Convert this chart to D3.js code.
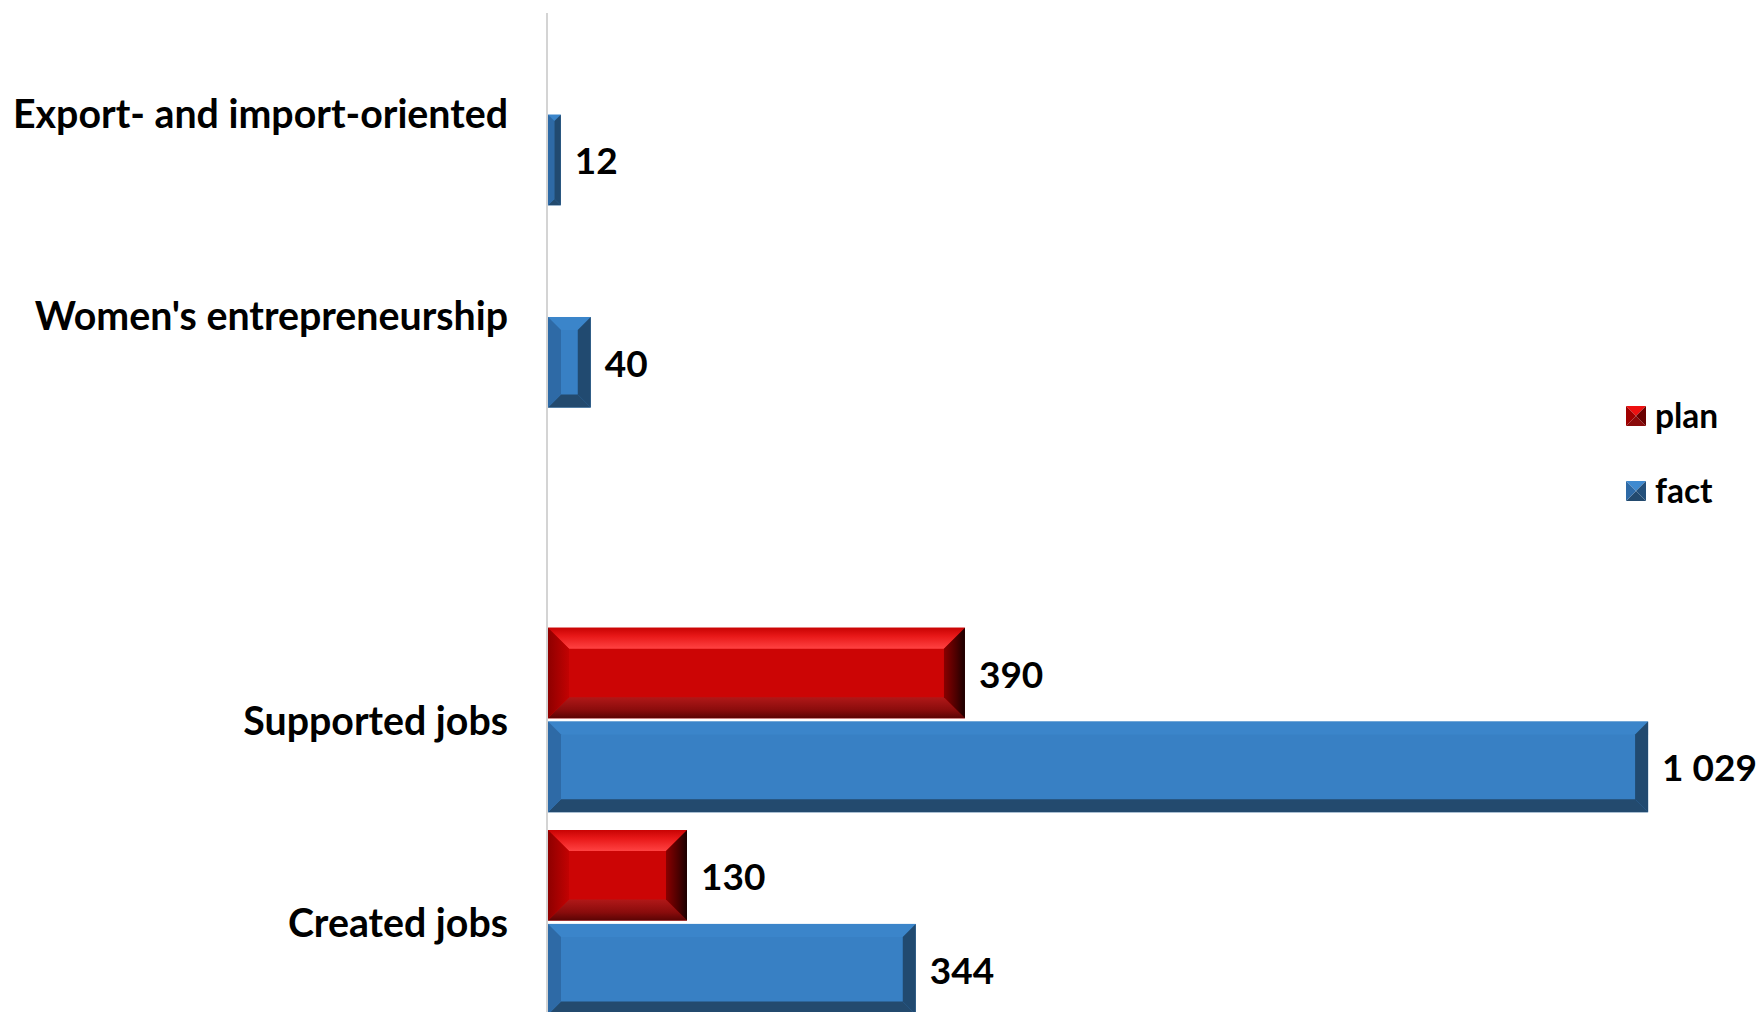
<!DOCTYPE html>
<html>
<head>
<meta charset="utf-8">
<script src="https://cdn.jsdelivr.net/npm/d3@7"></script>
<style>
  body { margin: 0; background: #fff; }
  text { font-family: Lato, "Open Sans", sans-serif; font-weight: bold; fill: #000; }
</style>
</head>
<body>
<div id="chart"></div>
<script>
// categories from top to bottom (the empty one is a blank row in the original)
var categories = ["Export- and import-oriented", "Women's entrepreneurship", "", "Supported jobs", "Created jobs"];
var series = ["plan", "fact"];
var planValues = [null, null, null, 390, 130];
var factValues = [12, 40, null, 1029, 344];

var width = 1762, height = 1012;

// colours for the bevelled bars
var colors = {
  plan: { main: "#cc0505", top: "gPlanTop", bottom: "gPlanBottom", left: "gPlanLeft", right: "gPlanRight" },
  fact: { main: "#3880c4", top: "#3b85ca", bottom: "#234a6e", left: "#2e6aa6", right: "#214a70" }
};

var svg = d3.select("#chart")
  .append("svg")
    .attr("width", width)
    .attr("height", height);

// gradients for the red bevel
var defs = svg.append("defs");
function grad(id, x2, y2, stops) {
  var g = defs.append("linearGradient")
    .attr("id", id)
    .attr("x1", 0).attr("y1", 0)
    .attr("x2", x2).attr("y2", y2);
  stops.forEach(function(s) {
    g.append("stop").attr("offset", s[0]).attr("stop-color", s[1]);
  });
}
grad("gPlanTop", 0, 1, [[0, "#c80303"], [0.4, "#e81818"], [1, "#ff4242"]]);
grad("gPlanBottom", 0, 1, [[0, "#b01818"], [0.6, "#8a0c0c"], [1, "#5a0404"]]);
grad("gPlanLeft", 1, 0, [[0, "#8e0000"], [1, "#c20202"]]);
grad("gPlanRight", 1, 0, [[0, "#8a0000"], [0.6, "#4a0000"], [1, "#1a0000"]]);

// scales
var y0 = d3.scaleBand()
  .domain(categories)
  .range([11.3, 1022.8]);

var y1 = d3.scaleBand()
  .domain(series)
  .range([9.5, 194])
  .paddingInner(0.035);

var x = d3.scaleLinear()
  .domain([0, 1100])
  .range([548, 1724]);

// axis line
svg.append("line")
  .attr("x1", x(0) - 1).attr("x2", x(0) - 1)
  .attr("y1", 13).attr("y2", height)
  .attr("stroke", "#d4d4d4")
  .attr("stroke-width", 2);

// category labels
svg.selectAll(".cat")
  .data(categories)
  .enter()
  .append("text")
    .attr("class", "cat")
    .attr("x", 508)
    .attr("y", function(d) { return y0(d) + y0.bandwidth() / 2; })
    .attr("text-anchor", "end")
    .attr("dominant-baseline", "central")
    .style("font-size", "39.3px")
    .text(function(d) { return d; });

// build bar list
var bars = [];
categories.forEach(function(c, i) {
  if (planValues[i] != null) bars.push({ cat: c, s: "plan", v: planValues[i] });
  if (factValues[i] != null) bars.push({ cat: c, s: "fact", v: factValues[i] });
});

var fmt = d3.formatLocale({ decimal: ".", thousands: " ", grouping: [3], currency: ["", ""] }).format(",d");

function pts(a) { return a.map(function(p) { return p.join(","); }).join(" "); }

// bevelled bars
bars.forEach(function(d) {
  var x0 = x(0), x1 = x(d.v);
  var top = y0(d.cat) + y1(d.s), bot = top + y1.bandwidth();
  var w = x1 - x0, h = bot - top;
  var b = Math.min(d.s == "plan" ? 21 : 13, w / 2, h / 2);
  var c = colors[d.s];
  var fill = function(k) { return c[k].charAt(0) == "#" ? c[k] : "url(#" + c[k] + ")"; };
  var g = svg.append("g");
  g.append("rect")
    .attr("x", x0).attr("y", top)
    .attr("width", w).attr("height", h)
    .attr("fill", c.main);
  g.append("polygon").attr("fill", fill("top"))
    .attr("points", pts([[x0, top], [x1, top], [x1 - b, top + b], [x0 + b, top + b]]));
  g.append("polygon").attr("fill", fill("bottom"))
    .attr("points", pts([[x0, bot], [x1, bot], [x1 - b, bot - b], [x0 + b, bot - b]]));
  g.append("polygon").attr("fill", fill("left"))
    .attr("points", pts([[x0, top], [x0 + b, top + b], [x0 + b, bot - b], [x0, bot]]));
  g.append("polygon").attr("fill", fill("right"))
    .attr("points", pts([[x1, top], [x1 - b, top + b], [x1 - b, bot - b], [x1, bot]]));

  // value label
  svg.append("text")
    .attr("x", x1 + 14)
    .attr("y", (top + bot) / 2)
    .attr("dominant-baseline", "central")
    .style("font-size", "37px")
    .text(fmt(d.v));
});

// legend
var legend = svg.selectAll(".leg")
  .data(series)
  .enter()
  .append("g")
    .attr("class", "leg")
    .attr("transform", function(d, i) { return "translate(1626," + (406 + i * 75) + ")"; });

legend.each(function(d) {
  var g = d3.select(this), s = 20, m = s / 2;
  var tri = d == "plan"
    ? { top: "#ee1010", left: "#a00000", right: "#6a0000", bottom: "#8a0a0a" }
    : { top: "#3f8ad0", left: "#2e6aa6", right: "#24507a", bottom: "#234a6e" };
  g.append("polygon").attr("fill", tri.top).attr("points", pts([[0, 0], [s, 0], [m, m]]));
  g.append("polygon").attr("fill", tri.bottom).attr("points", pts([[0, s], [s, s], [m, m]]));
  g.append("polygon").attr("fill", tri.left).attr("points", pts([[0, 0], [m, m], [0, s]]));
  g.append("polygon").attr("fill", tri.right).attr("points", pts([[s, 0], [m, m], [s, s]]));
  g.append("text")
    .attr("x", 29)
    .attr("y", m - 1)
    .attr("dominant-baseline", "central")
    .style("font-size", "33.5px")
    .text(d);
});
</script>
</body>
</html>
